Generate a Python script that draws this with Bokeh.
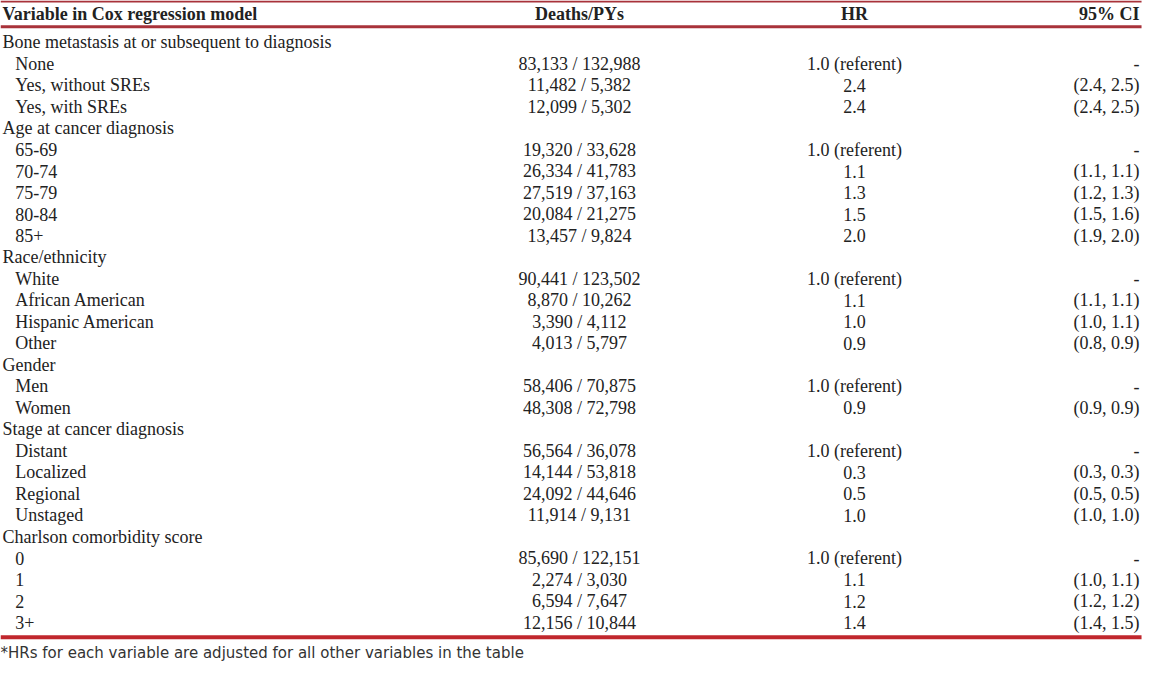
from bokeh.plotting import figure
from bokeh.models import Range1d, ColumnDataSource
from bokeh.core.properties import value
from bokeh.embed import file_html
from bokeh.resources import INLINE

headers = ["Variable in Cox regression model", "Deaths/PYs", "HR", "95% CI"]

variables = [
    "Bone metastasis at or subsequent to diagnosis", "None", "Yes, without SREs", "Yes, with SREs",
    "Age at cancer diagnosis", "65-69", "70-74", "75-79", "80-84", "85+",
    "Race/ethnicity", "White", "African American", "Hispanic American", "Other",
    "Gender", "Men", "Women",
    "Stage at cancer diagnosis", "Distant", "Localized", "Regional", "Unstaged",
    "Charlson comorbidity score", "0", "1", "2", "3+",
]
is_group = [1, 0, 0, 0,
            1, 0, 0, 0, 0, 0,
            1, 0, 0, 0, 0,
            1, 0, 0,
            1, 0, 0, 0, 0,
            1, 0, 0, 0, 0]
deaths_pys = [
    "", "83,133 / 132,988", "11,482 / 5,382", "12,099 / 5,302",
    "", "19,320 / 33,628", "26,334 / 41,783", "27,519 / 37,163", "20,084 / 21,275", "13,457 / 9,824",
    "", "90,441 / 123,502", "8,870 / 10,262", "3,390 / 4,112", "4,013 / 5,797",
    "", "58,406 / 70,875", "48,308 / 72,798",
    "", "56,564 / 36,078", "14,144 / 53,818", "24,092 / 44,646", "11,914 / 9,131",
    "", "85,690 / 122,151", "2,274 / 3,030", "6,594 / 7,647", "12,156 / 10,844",
]
hr = [
    "", "1.0 (referent)", "2.4", "2.4",
    "", "1.0 (referent)", "1.1", "1.3", "1.5", "2.0",
    "", "1.0 (referent)", "1.1", "1.0", "0.9",
    "", "1.0 (referent)", "0.9",
    "", "1.0 (referent)", "0.3", "0.5", "1.0",
    "", "1.0 (referent)", "1.1", "1.2", "1.4",
]
ci = [
    "", "-", "(2.4, 2.5)", "(2.4, 2.5)",
    "", "-", "(1.1, 1.1)", "(1.2, 1.3)", "(1.5, 1.6)", "(1.9, 2.0)",
    "", "-", "(1.1, 1.1)", "(1.0, 1.1)", "(0.8, 0.9)",
    "", "-", "(0.9, 0.9)",
    "", "-", "(0.3, 0.3)", "(0.5, 0.5)", "(1.0, 1.0)",
    "", "-", "(1.0, 1.1)", "(1.2, 1.2)", "(1.4, 1.5)",
]
footnote = "*HRs for each variable are adjusted for all other variables in the table"

W, H = 1160, 680
p = figure(width=1144, height=664, x_range=Range1d(0, W), y_range=Range1d(H, 0),
           output_backend="svg", toolbar_location=None, min_border=0)
p.axis.visible = False
p.grid.visible = False
p.outline_line_color = None
p.background_fill_color = "white"
p.border_fill_color = "white"

serif = value("Liberation Serif")
txt_color = "#222222"
fs = "18px"

# header
y_head = 14
hx = [2, 587, 866, 1155]
halign = ["left", "center", "center", "right"]
for t, x, a in zip(headers, hx, halign):
    p.text(x=[x], y=[y_head], text=[t], text_font=serif, text_font_size=fs,
           text_font_style="bold", text_align=a, text_baseline="middle", text_color=txt_color)

# rows
row0, pitch = 43, 22
ys = [row0 + pitch * i for i in range(len(variables))]
xs = [2 if g else 15 for g in is_group]
src = ColumnDataSource(dict(x=xs, y=ys, var=variables, d=deaths_pys, hr=hr, ci=ci))
p.text(x="x", y="y", text="var", source=src, text_font=serif, text_font_size=fs,
       text_align="left", text_baseline="middle", text_color=txt_color)
p.text(x=587, y="y", text="d", source=src, text_font=serif, text_font_size=fs,
       text_align="center", text_baseline="middle", text_color=txt_color)
p.text(x=866, y="y", text="hr", source=src, text_font=serif, text_font_size=fs,
       text_align="center", text_baseline="middle", text_color=txt_color)
p.text(x=1155, y="y", text="ci", source=src, text_font=serif, text_font_size=fs,
       text_align="right", text_baseline="middle", text_color=txt_color)

# rules
p.segment(x0=[0], y0=[1], x1=[1157], y1=[1], line_color="#a8323a", line_width=2)
p.segment(x0=[0], y0=[27], x1=[1157], y1=[27], line_color="#a8323a", line_width=3)
p.segment(x0=[0], y0=[652], x1=[1157], y1=[652], line_color="#c0272d", line_width=4)

# footnote
p.text(x=[0], y=[668], text=[footnote], text_font=value("DejaVu Sans"), text_font_size="15px",
       text_align="left", text_baseline="middle", text_color="#333333")

open("out.html", "w").write(file_html(p, INLINE))
